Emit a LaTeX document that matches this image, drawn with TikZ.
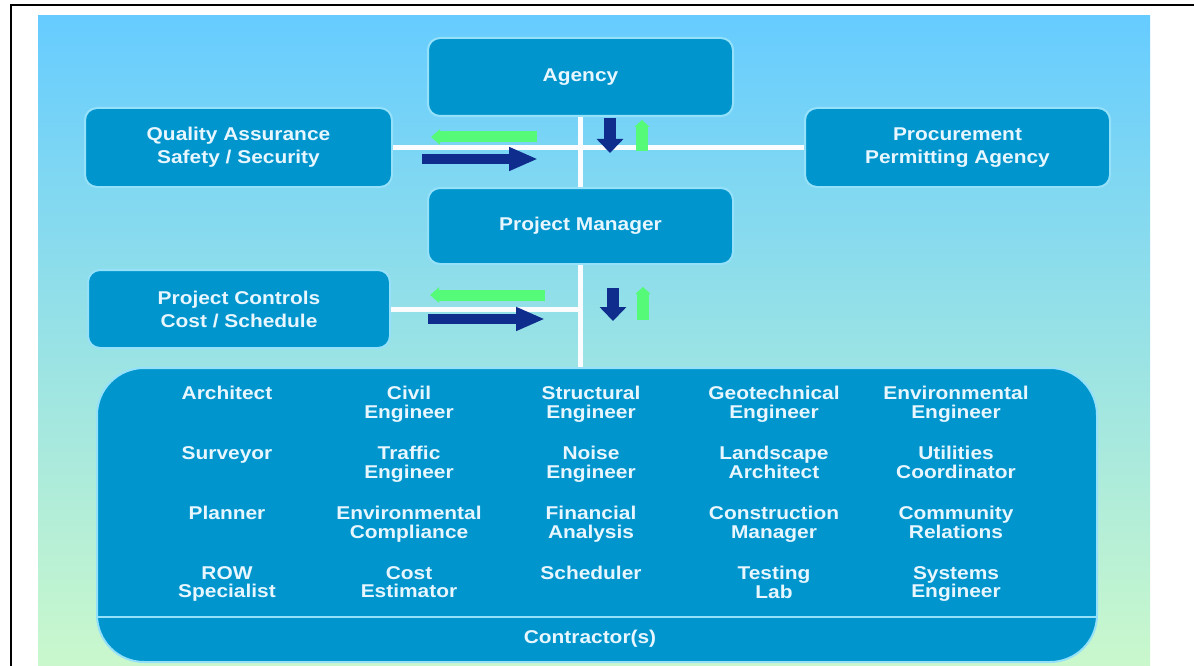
\documentclass[tikz,border=0pt]{standalone}
\usepackage{fontspec}
\setmainfont[FakeStretch=1.13]{Liberation Sans}
\usetikzlibrary{arrows.meta}

\definecolor{bgtop}{RGB}{102,204,255}
\definecolor{bgmid}{RGB}{156,224,238}
\definecolor{bgbot}{RGB}{202,248,204}
\definecolor{boxfill}{RGB}{0,150,205}
\definecolor{boxedge}{RGB}{150,225,250}
\definecolor{boxtext}{RGB}{232,246,255}
\definecolor{linkwhite}{RGB}{250,252,255}
\definecolor{flowblue}{RGB}{15,45,140}
\definecolor{flowgreen}{RGB}{85,250,120}

\begin{document}
\begin{tikzpicture}[x=1pt,y=-1pt,
  box/.style={draw=boxedge, line width=2pt, fill=boxfill, rounded corners=12pt,
    minimum width=305pt, minimum height=78pt, inner sep=0pt, align=center,
    text=boxtext, font=\fontsize{18.5}{23}\selectfont\bfseries},
  bigbox/.style={draw=boxedge, line width=2pt, fill=boxfill, rounded corners=47pt,
    minimum width=1000pt, minimum height=294pt, inner sep=0pt},
  cell/.style={anchor=north, inner sep=0pt, align=center, text=boxtext,
    font=\fontsize{18.5}{18.5}\selectfont\bfseries},
  link/.style={draw=linkwhite, line width=5pt},
  sepline/.style={draw=boxedge, line width=2.5pt},
  downflow/.style={draw=flowblue, line width=12pt,
    -{Triangle[width=26pt,length=14pt]}},
  rightflow/.style={draw=flowblue, line width=10pt,
    -{Triangle[width=22pt,length=29pt]}},
  upflow/.style={draw=flowgreen, line width=12pt,
    -{Triangle[width=15pt,length=7pt]}},
  leftflow/.style={draw=flowgreen, line width=11pt,
    -{Triangle[width=15pt,length=9pt]}}
]
\useasboundingbox (0,0) rectangle (1194,666);
\fill[white] (0,0) rectangle (1194,666);

% frame and shaded backdrop
\draw[line width=2pt, black] (11,666) -- (11,5) -- (1194,5);
\shade[top color=bgtop, middle color=bgmid, bottom color=bgbot] (38,16) rectangle (1150,666);

% organisation boxes
\node[box] (agency) at (580.5,77) {Agency};
\node[box, minimum width=307pt, minimum height=79pt] (qa) at (238.5,147.5) {Quality Assurance\\Safety / Security};
\node[box, minimum height=79pt] (proc) at (957.5,147.5) {Procurement\\Permitting Agency};
\node[box, minimum height=76pt] (pm) at (580.5,226) {Project Manager};
\node[box, minimum width=302pt] (pc) at (239,309) {Project Controls\\Cost / Schedule};

% links between the boxes
\draw[link] (qa.east) -- (proc.west);
\draw[link] (agency.south) -- (pm.north);
\draw[link] (pc.east) -- (pc.east -| pm.south);

% contractor team
\node[bigbox] (contractors) at (597,515) {};
\draw[link] (pm.south) -- (contractors.north -| pm.south);
\draw[sepline] (contractors.west |- 0,617) -- (contractors.east |- 0,617);
\node[cell, anchor=center] (contractorlabel) at (590,639) {Contractor(s)};

% row 1
\node[cell] (architect) at (227,386) {Architect};
\node[cell] (civil) at (409,386) {Civil\\Engineer};
\node[cell] (structural) at (591,386) {Structural\\Engineer};
\node[cell] (geotech) at (774,386) {Geotechnical\\Engineer};
\node[cell] (environmental) at (956,386) {Environmental\\Engineer};
% row 2
\node[cell] (surveyor) at (227,446) {Surveyor};
\node[cell] (traffic) at (409,446) {Traffic\\Engineer};
\node[cell] (noise) at (591,446) {Noise\\Engineer};
\node[cell] (landscape) at (774,446) {Landscape\\Architect};
\node[cell] (utilities) at (956,446) {Utilities\\Coordinator};
% row 3
\node[cell] (planner) at (227,506) {Planner};
\node[cell] (envcomp) at (409,506) {Environmental\\Compliance};
\node[cell] (financial) at (591,506) {Financial\\Analysis};
\node[cell] (construction) at (774,506) {Construction\\Manager};
\node[cell] (community) at (956,506) {Community\\Relations};
% row 4
\node[cell] (row) at (227,566) {ROW\\Specialist};
\node[cell] (costest) at (409,566) {Cost\\Estimator};
\node[cell] (scheduler) at (591,566) {Scheduler};
\node[cell] (testing) at (774,566) {Testing\\Lab};
\node[cell] (systems) at (956,566) {Systems\\Engineer};

% information flow markers, upper level
\draw[leftflow] (537,137) -- (431,137);
\draw[rightflow] (422,159) -- (538,159);
\draw[downflow] (610,118) -- (610,153);
\draw[upflow] (642,151) -- (642,120);

% information flow markers, lower level
\draw[leftflow] (545,295) -- (430,295);
\draw[rightflow] (428,319) -- (545,319);
\draw[downflow] (613,288) -- (613,321);
\draw[upflow] (643,320) -- (643,287);
\end{tikzpicture}
\end{document}
